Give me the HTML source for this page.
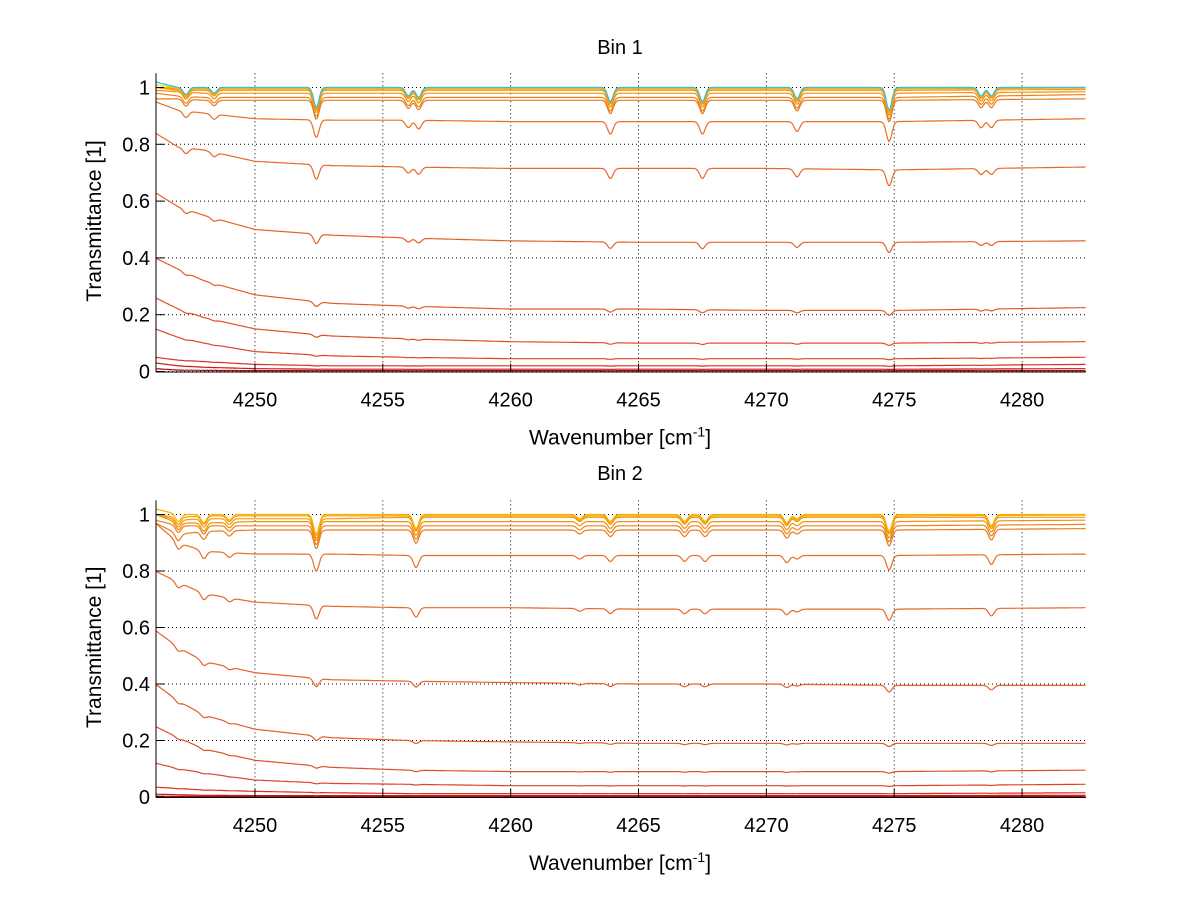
<!DOCTYPE html>
<html><head><meta charset="utf-8"><style>
body{margin:0;background:#fff;}
svg{display:block;font-family:"Liberation Sans",sans-serif;}
</style></head><body>
<svg id="fig" width="1200" height="901" viewBox="0 0 1200 901"></svg>
<script>
// ---- data ----
const xTicks=[4250,4255,4260,4265,4270,4275,4280];
const yTicks=[0,0.2,0.4,0.6,0.8,1];
const sampleX=[4246.1,4247,4248,4250,4253,4256,4260,4265,4270,4275,4282.5];
const bin1Series=[
 [1.02,1.0,1.0,1.0,1.0,1.0,1.0,1.0,1.0,1.0,1.0],
 [1.01,1.0,1.0,1.0,1.0,1.0,1.0,1.0,1.0,1.0,1.0],
 [1.0,1.0,1.0,1.0,1.0,1.0,1.0,1.0,1.0,1.0,1.0],
 [1.0,0.995,0.995,0.995,0.995,0.995,0.995,0.995,0.995,0.995,0.998],
 [1.0,0.99,0.99,0.99,0.99,0.99,0.99,0.99,0.99,0.99,0.993],
 [0.99,0.985,0.98,0.98,0.98,0.98,0.98,0.98,0.98,0.98,0.985],
 [0.98,0.97,0.965,0.965,0.965,0.965,0.965,0.965,0.965,0.965,0.975],
 [0.96,0.96,0.955,0.955,0.955,0.955,0.955,0.955,0.955,0.955,0.96],
 [0.95,0.92,0.91,0.89,0.885,0.885,0.88,0.88,0.88,0.88,0.89],
 [0.84,0.79,0.78,0.74,0.725,0.72,0.715,0.715,0.715,0.71,0.72],
 [0.63,0.58,0.55,0.5,0.48,0.47,0.46,0.455,0.455,0.455,0.46],
 [0.40,0.36,0.32,0.27,0.24,0.23,0.22,0.22,0.215,0.215,0.225],
 [0.26,0.22,0.19,0.15,0.125,0.115,0.105,0.10,0.10,0.10,0.105],
 [0.15,0.12,0.10,0.07,0.055,0.05,0.045,0.045,0.045,0.045,0.05],
 [0.05,0.04,0.035,0.025,0.02,0.02,0.02,0.02,0.02,0.02,0.025],
 [0.03,0.02,0.015,0.01,0.008,0.008,0.008,0.008,0.008,0.008,0.01],
 [0.01,0.005,0.004,0.003,0.003,0.003,0.003,0.003,0.003,0.003,0.003]
];
const bin1Colors=["#30c0e0","#e0e020","#f8b000","#f8a000","#f09a10","#f09010","#ec8418","#e87c1c","#e86e24","#e86828","#e86028","#e45a28","#e05028","#dc4628","#d83020","#c81818","#b00808"];
const bin1LinePos=[4247.3,4248.4,4252.4,4256.0,4256.4,4263.9,4267.5,4271.2,4274.8,4278.4,4278.8];
const bin1LineDepth=[0.025,0.02,0.07,0.03,0.035,0.05,0.05,0.04,0.08,0.03,0.03];
const bin2Series=[
 [1.02,1.0,1.0,1.0,1.0,1.0,1.0,1.0,1.0,1.0,1.0],
 [1.0,0.99,0.995,0.995,0.995,0.995,0.995,0.995,0.995,0.995,0.998],
 [1.0,0.98,0.985,0.985,0.985,0.99,0.99,0.99,0.99,0.99,0.99],
 [1.0,0.97,0.97,0.975,0.975,0.975,0.975,0.975,0.975,0.975,0.98],
 [0.98,0.96,0.96,0.96,0.96,0.96,0.96,0.96,0.96,0.96,0.965],
 [0.97,0.93,0.94,0.945,0.945,0.945,0.945,0.945,0.945,0.945,0.95],
 [0.97,0.90,0.87,0.86,0.86,0.855,0.855,0.855,0.855,0.855,0.86],
 [0.80,0.76,0.72,0.69,0.675,0.67,0.67,0.665,0.665,0.665,0.67],
 [0.59,0.53,0.48,0.44,0.415,0.41,0.405,0.4,0.4,0.395,0.395],
 [0.40,0.34,0.29,0.24,0.21,0.20,0.195,0.19,0.19,0.19,0.19],
 [0.25,0.21,0.17,0.13,0.105,0.095,0.09,0.09,0.09,0.09,0.095],
 [0.12,0.10,0.085,0.06,0.048,0.045,0.04,0.04,0.04,0.04,0.045],
 [0.035,0.03,0.025,0.02,0.015,0.012,0.012,0.012,0.012,0.012,0.015],
 [0.01,0.008,0.006,0.005,0.005,0.005,0.005,0.005,0.005,0.005,0.006],
 [0.003,0.002,0.002,0.002,0.002,0.002,0.002,0.002,0.002,0.002,0.002]
];
const bin2Colors=["#f8b000","#f8a000","#f09a10","#f09010","#ec8418","#e87c1c","#e86e24","#e86828","#e86028","#e45a28","#e05028","#dc4628","#d83020","#c81818","#b00808"];
const bin2LinePos=[4247.0,4248.0,4249.0,4252.4,4256.3,4262.7,4263.9,4266.8,4267.6,4270.8,4271.2,4274.8,4278.8];
const bin2LineDepth=[0.025,0.03,0.02,0.07,0.05,0.015,0.025,0.025,0.025,0.03,0.015,0.06,0.04];

const NS="http://www.w3.org/2000/svg";
const svg=document.getElementById('fig');
function mk(tag,attrs,parent){const e=document.createElementNS(NS,tag);for(const k in attrs)e.setAttribute(k,attrs[k]);(parent||svg).appendChild(e);return e;}
function interp(xs,ys,x){for(let i=0;i<xs.length-1;i++){if(x<=xs[i+1]){const t=(x-xs[i])/(xs[i+1]-xs[i]);return ys[i]+t*(ys[i+1]-ys[i]);}}return ys[ys.length-1];}

function drawPanel(cfg){
 const X0=4246.13,X1=4282.5,L=156,R=1086;
 const xs=v=>L+(v-X0)/(X1-X0)*(R-L);
 const ys=v=>cfg.y0-cfg.k*v;
 const g=mk('g',{});
 
 
 xTicks.forEach(t=>{const l=mk('line',{x1:xs(t),x2:xs(t),y1:ys(1.05),y2:ys(0),stroke:'#000','stroke-width':1,'stroke-dasharray':'1,3'},g);});
 yTicks.forEach(t=>{const l=mk('line',{x1:L,x2:R,y1:ys(t),y2:ys(t),stroke:'#000','stroke-width':1,'stroke-dasharray':'1,3'},g);});
 for(let s=cfg.series.length-1;s>=0;s--){
  const vals=cfg.series[s];let d='';
  for(let x=X0;x<=X1+1e-9;x+=0.05){
   let v=interp(sampleX,vals,x);
   let f=1;
   cfg.pos.forEach((p,i)=>{f-=cfg.depth[i]*Math.exp(-Math.pow((x-p)/0.15,2));});
   v=v*f;
   d+=(d?'L':'M')+xs(x).toFixed(1)+','+ys(v).toFixed(1);
  }
  const p=mk('path',{d:d,fill:'none',stroke:cfg.colors[s],'stroke-width':1.2},g);
  
  
 }
 const ax=mk('line',{x1:L,x2:L,y1:ys(1.05),y2:ys(0)+0.5,stroke:'#000','stroke-width':1},g);
 
 const bx=mk('line',{x1:L,x2:R,y1:ys(0)+0.5,y2:ys(0)+0.5,stroke:'#000','stroke-width':1},g);
 
 xTicks.forEach(t=>{mk('line',{x1:xs(t),x2:xs(t),y1:ys(0),y2:ys(0)-8,stroke:'#000'},g);
  const tx=mk('text',{x:xs(t),y:ys(0)+35,'font-size':20,'text-anchor':'middle'},g);tx.textContent=t;
  });
 yTicks.forEach(t=>{mk('line',{x1:L,x2:L+8,y1:ys(t),y2:ys(t),stroke:'#000'},g);
  const tx=mk('text',{x:L-6,y:ys(t)+7,'font-size':20,'text-anchor':'end'},g);tx.textContent=(t===0||t===1)?String(t):t.toFixed(1);
  });
 const ti=mk('text',{x:620,y:cfg.titleY,'font-size':20,'text-anchor':'middle'},g);ti.textContent=cfg.title;
 
 const xl=mk('text',{x:620,y:ys(0)+73,'font-size':21,'text-anchor':'middle'},g);
 xl.innerHTML='Wavenumber [cm<tspan dy="-8" font-size="14">-1</tspan><tspan dy="8">]</tspan>';
 
 const yl=mk('text',{x:0,y:0,'font-size':21,'text-anchor':'middle',transform:`translate(101,${ys(0.53)}) rotate(-90)`},g);
 yl.textContent='Transmittance [1]';
 
}
drawPanel({name:'bin1-panel',title:'Bin 1',titleY:54,y0:371.5,k:284,series:bin1Series,colors:bin1Colors,pos:bin1LinePos,depth:bin1LineDepth});
drawPanel({name:'bin2-panel',title:'Bin 2',titleY:480,y0:797,k:282.5,series:bin2Series,colors:bin2Colors,pos:bin2LinePos,depth:bin2LineDepth});
</script>
</body></html>
